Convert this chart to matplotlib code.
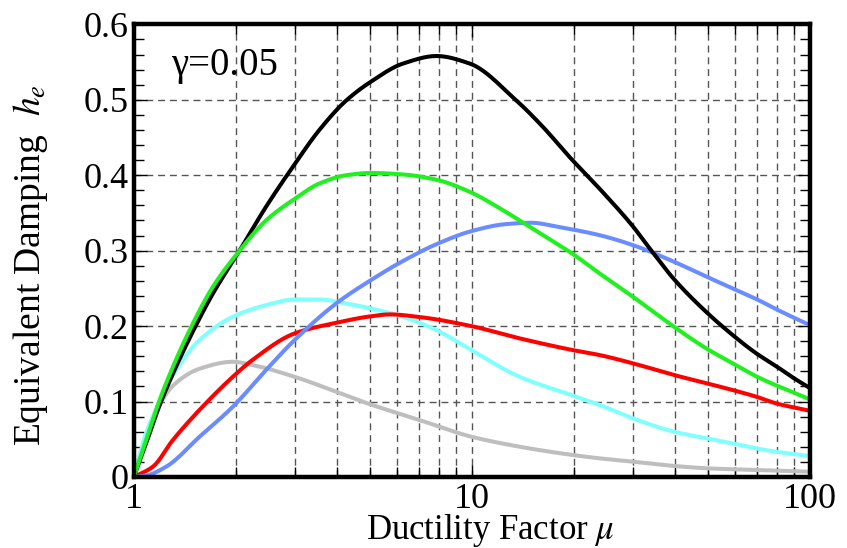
import numpy as np
import matplotlib
matplotlib.use('Agg')
import matplotlib.pyplot as plt
from matplotlib.ticker import MultipleLocator, LogLocator, NullFormatter, FuncFormatter

plt.rcParams['font.family'] = ['Liberation Serif', 'DejaVu Serif']
plt.rcParams['mathtext.fontset'] = 'stix'

# values (mu, h_e)
mu_black = [1.0, 1.088, 1.192, 1.305, 1.496, 1.713, 2.055, 2.46, 2.954, 3.54, 4.25, 5.03, 6.26, 7.86, 9.86, 13.55, 16.24, 19.48, 23.9, 30.0, 33.6, 39.7, 49.6, 59.2, 69.4, 79.5, 89.0, 100]
he_black = [0.0, 0.045, 0.095, 0.137, 0.193, 0.243, 0.300, 0.358, 0.411, 0.460, 0.499, 0.524, 0.548, 0.558, 0.548, 0.499, 0.464, 0.424, 0.382, 0.332, 0.303, 0.262, 0.218, 0.188, 0.164, 0.147, 0.132, 0.118]

mu_green = [1.0, 1.088, 1.192, 1.305, 1.496, 1.713, 2.055, 2.46, 2.954, 3.54, 4.25, 5.03, 6.26, 7.86, 9.86, 12.37, 14.84, 17.8, 19.7, 23.9, 30.0, 39.7, 49.6, 59.2, 69.4, 100]
he_green = [0.0, 0.049, 0.102, 0.146, 0.2036, 0.252, 0.300, 0.340, 0.367, 0.389, 0.400, 0.403, 0.401, 0.394, 0.378, 0.3536, 0.3315, 0.3095, 0.297, 0.2698, 0.2388, 0.199, 0.170, 0.1506, 0.1335, 0.103]

mu_blue = [1.0, 1.09, 1.247, 1.565, 1.963, 2.46, 2.99, 3.97, 5.03, 6.3, 7.9, 10.0, 12.5, 15.0, 18.0, 23.9, 30.0, 39.7, 49.6, 59.2, 69.4, 79.5, 100]
he_blue = [0.0, 0.002, 0.0137, 0.0534, 0.0931, 0.1417, 0.1815, 0.230, 0.261, 0.287, 0.309, 0.326, 0.335, 0.337, 0.3315, 0.3205, 0.3073, 0.2852, 0.2653, 0.2499, 0.236, 0.2225, 0.2013]

mu_cyan = [1.0, 1.088, 1.192, 1.305, 1.565, 1.963, 2.46, 2.99, 3.54, 4.25, 5.03, 6.26, 7.86, 9.97, 13.86, 19.9, 23.9, 30.0, 39.7, 49.6, 59.2, 69.4, 79.5, 100]
he_cyan = [0.0, 0.058, 0.10, 0.135, 0.1815, 0.2123, 0.2278, 0.2353, 0.2353, 0.230, 0.2234, 0.2123, 0.1947, 0.1682, 0.1328, 0.108, 0.0955, 0.0777, 0.060, 0.0512, 0.0446, 0.038, 0.0335, 0.0278]

mu_red = [1.0, 1.139, 1.305, 1.565, 1.963, 2.25, 2.99, 3.97, 5.03, 5.72, 7.01, 9.97, 13.86, 19.9, 23.9, 30.0, 39.7, 49.6, 59.2, 69.4, 79.5, 100]
he_red = [0.0, 0.0137, 0.049, 0.089, 0.1328, 0.1555, 0.1903, 0.2044, 0.213, 0.2155, 0.212, 0.200, 0.1837, 0.1682, 0.1616, 0.1506, 0.1351, 0.1241, 0.1152, 0.1065, 0.0976, 0.0878]

mu_gray = [1.0, 1.05, 1.1, 1.2, 1.305, 1.565, 1.963, 2.25, 2.99, 3.97, 5.03, 7.01, 9.97, 13.86, 19.9, 23.9, 30.0, 39.7, 49.6, 69.4, 100]
he_gray = [0.0, 0.035, 0.063, 0.098, 0.121, 0.1435, 0.1527, 0.1483, 0.1328, 0.113, 0.096, 0.0755, 0.0534, 0.0401, 0.0291, 0.0247, 0.0203, 0.0146, 0.0115, 0.0093, 0.007]

curves = [
    (mu_gray, he_gray, '#bebebe'),
    (mu_cyan, he_cyan, '#80ffff'),
    (mu_red, he_red, '#ff0000'),
    (mu_blue, he_blue, '#6b8cff'),
    (mu_black, he_black, '#000000'),
    (mu_green, he_green, '#20f020'),
]


def pchip(x, y, xs):
    # monotone cubic hermite, just to draw smooth lines through the read points
    x = np.asarray(x, float)
    y = np.asarray(y, float)
    h = np.diff(x)
    d = np.diff(y) / h
    m = np.zeros_like(y)
    for i in range(1, len(x) - 1):
        if d[i - 1] * d[i] > 0:
            w1 = 2 * h[i] + h[i - 1]
            w2 = h[i] + 2 * h[i - 1]
            m[i] = (w1 + w2) / (w1 / d[i - 1] + w2 / d[i])
    m[0] = d[0]
    m[-1] = d[-1]
    idx = np.clip(np.searchsorted(x, xs) - 1, 0, len(x) - 2)
    t = (xs - x[idx]) / h[idx]
    h00 = 2 * t**3 - 3 * t**2 + 1
    h10 = t**3 - 2 * t**2 + t
    h01 = -2 * t**3 + 3 * t**2
    h11 = t**3 - t**2
    return h00 * y[idx] + h10 * h[idx] * m[idx] + h01 * y[idx + 1] + h11 * h[idx] * m[idx + 1]


fig = plt.figure(figsize=(8.47, 5.48), dpi=100)
ax = fig.add_axes([0.158, 0.1296, 0.798, 0.826])

for mu, he, c in curves:
    lx = np.log10(mu)
    xs = np.linspace(lx[0], lx[-1], 500)
    ax.plot(10 ** xs, pchip(lx, he, xs), color=c, lw=2.9, solid_capstyle='butt')

ax.set_xscale('log')
ax.set_xlim(1, 100)
ax.set_ylim(0, 0.6)
ax.set_xticks([1, 10, 100])
ax.set_xticklabels(['1', '10', '100'])
ax.xaxis.set_minor_locator(LogLocator(base=10, subs=np.arange(2, 10)))
ax.xaxis.set_minor_formatter(NullFormatter())
ax.yaxis.set_major_locator(MultipleLocator(0.1))
ax.yaxis.set_minor_locator(MultipleLocator(0.02))
ax.yaxis.set_major_formatter(FuncFormatter(lambda v, p: '0' if abs(v) < 1e-9 else '%.1f' % v))

ax.grid(True, which='major', axis='y', color='#555555', ls=(0, (5, 3.5)), lw=1.0)
ax.grid(True, which='both', axis='x', color='#555555', ls=(0, (5, 3.5)), lw=1.0)

ax.tick_params(which='both', direction='in', top=True, right=True, labelsize=26, width=1.0)
ax.tick_params(which='major', length=9, pad=4)
ax.tick_params(which='minor', length=7)
for s in ax.spines.values():
    s.set_linewidth(3.2)

ax.set_xlabel(r'Ductility Factor $\mu$', fontsize=25)
ax.xaxis.set_label_coords(0.527, -0.078)
ax.set_ylabel(r'Equivalent Damping  $h_e$', fontsize=27)
ax.yaxis.set_label_coords(-0.124, 0.468)
ax.text(0.055, 0.909, 'γ=0.05', transform=ax.transAxes, fontsize=28, va='center')

fig.savefig('out.png', dpi=100)
